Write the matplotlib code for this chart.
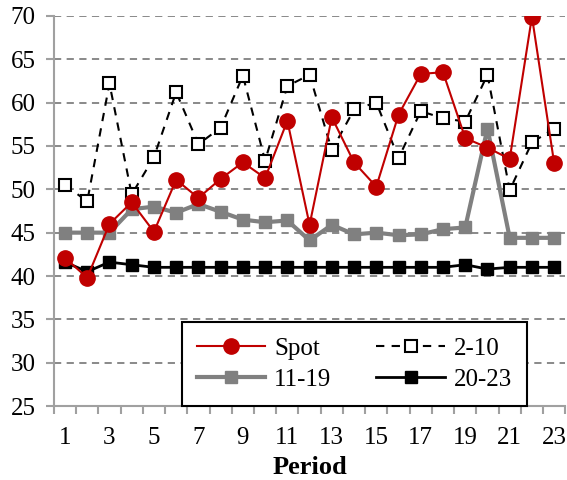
import matplotlib
matplotlib.use("Agg")
import matplotlib.pyplot as plt
from matplotlib.ticker import MultipleLocator, FixedLocator

periods = list(range(1, 24))
spot = [42.1, 39.8, 46.0, 48.5, 45.1, 51.1, 49.0, 51.2, 53.1, 51.3, 57.9, 45.9,
        58.3, 53.1, 50.3, 58.6, 63.3, 63.5, 55.9, 54.8, 53.5, 69.9, 53.0]
p2_10 = [50.5, 48.6, 62.2, 49.4, 53.7, 61.2, 55.2, 57.1, 63.1, 53.3, 61.9, 63.2,
         54.5, 59.2, 60.0, 53.6, 59.0, 58.2, 57.8, 63.2, 49.9, 55.4, 57.0]
p11_19 = [45.0, 45.0, 45.0, 47.7, 48.0, 47.3, 48.3, 47.4, 46.5, 46.2, 46.4, 44.1,
          45.9, 44.8, 45.0, 44.7, 44.8, 45.4, 45.6, 57.0, 44.4, 44.4, 44.4]
p20_23 = [41.6, 40.5, 41.6, 41.3, 41.0, 41.0, 41.0, 41.0, 41.0, 41.0, 41.0, 41.0,
          41.0, 41.0, 41.0, 41.0, 41.0, 41.0, 41.3, 40.8, 41.0, 41.0, 41.0]

plt.rcParams['font.family'] = ['Liberation Serif', 'DejaVu Serif']

fig = plt.figure(figsize=(5.67, 4.8), dpi=100)
ax = fig.add_axes([0.095, 0.154, 0.902, 0.813])

ax.plot(periods, p20_23, color='black', lw=2, marker='s', ms=8, label='20-23', zorder=3)
ax.plot(periods, p11_19, color='#808080', lw=3, marker='s', ms=8, label='11-19', zorder=4)
ax.plot(periods, p2_10, color='black', lw=1.5, ls=(0, (4, 3.5)), marker='s', ms=8,
        mfc='white', mec='black', mew=1.5, label='2-10', zorder=5)
ax.plot(periods, spot, color='#C00000', lw=1.5, marker='o', ms=11, label='Spot', zorder=6)

ax.set_xlim(0.5, 23.5)
ax.set_ylim(25, 70)
ax.yaxis.set_major_locator(MultipleLocator(5))
ax.xaxis.set_major_locator(FixedLocator(list(range(1, 24, 2))))
ax.xaxis.set_minor_locator(FixedLocator([i + 0.5 for i in range(0, 24)]))
ax.tick_params(axis='x', which='major', length=0, labelsize=18, pad=15, colors='black')
ax.tick_params(axis='x', which='minor', length=6, width=1.5, color='#a0a0a0', direction='out')
ax.tick_params(axis='y', which='major', length=6, width=1.5, color='#a0a0a0', labelsize=18,
               labelcolor='black', pad=7)

ax.grid(axis='y', color='#808080', ls=(0, (4, 3)), lw=1.3, zorder=0)
for s in ['top', 'right']:
    ax.spines[s].set_visible(False)
for s in ['left', 'bottom']:
    ax.spines[s].set_color('#a0a0a0')
    ax.spines[s].set_linewidth(1.5)
ax.set_axisbelow(True)

ax.set_xlabel('Period', fontsize=19, fontweight='bold', labelpad=5)

h, l = ax.get_legend_handles_labels()
order = [3, 1, 2, 0]
leg = ax.legend([h[i] for i in order], [l[i] for i in order], ncol=2,
                loc='lower left', bbox_to_anchor=(0.25, 0.0), borderaxespad=0,
                fontsize=18, handlelength=2.75, columnspacing=1.8, fancybox=False,
                edgecolor='black', framealpha=1, borderpad=0.6, labelspacing=0.35,
                handletextpad=0.35)
leg.get_frame().set_linewidth(1.5)
leg.set_zorder(10)

fig.savefig('out.png', dpi=100)
